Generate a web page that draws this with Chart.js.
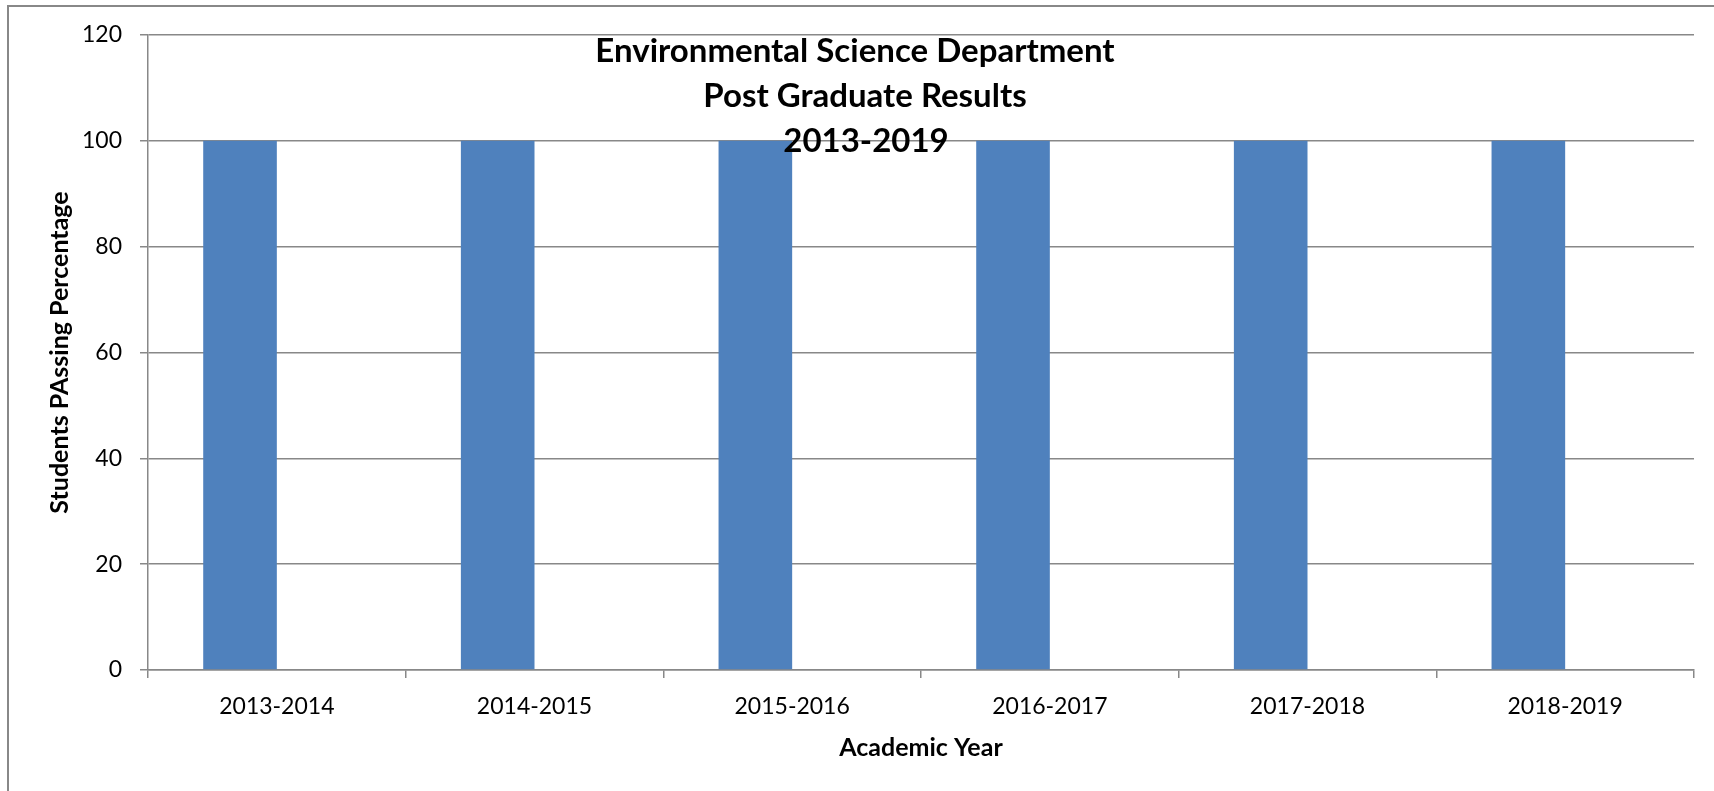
<!DOCTYPE html>
<html>
<head>
<meta charset="utf-8">
<title>Environmental Science Department - Post Graduate Results</title>
<script src="https://cdn.jsdelivr.net/npm/chart.js@4.4.1/dist/chart.umd.min.js"></script>
<style>
  html, body { margin: 0; padding: 0; background: #fff; overflow: hidden; }
  #wrap { width: 1714px; height: 791px; position: relative; }
</style>
</head>
<body>
<div id="wrap"><canvas id="chart" width="1714" height="791"></canvas></div>
<script>
(() => {
  // data
  const academicYears = ['2013-2014','2014-2015','2015-2016','2016-2017','2017-2018','2018-2019'];
  const passingPercentage = [100,100,100,100,100,100];
  // second (empty) series - the bars sit left of centre in the original
  const emptySeries = [null,null,null,null,null,null];
  const titleLines = ['Environmental Science Department','Post Graduate Results','2013-2019'];
  const yMin = 0, yMax = 120, yStep = 20;

  const gridGray = '#888888';
  const fontFamily = 'Lato, "Open Sans", sans-serif';

  // white page + the outer frame (only top/left visible in the crop)
  const framePlugin = {
    id: 'frame',
    beforeDraw(chart){
      const c = chart.ctx;
      c.save();
      c.fillStyle = '#fff';
      c.fillRect(0,0,chart.width,chart.height);
      c.strokeStyle = gridGray;
      c.lineWidth = 2;
      c.beginPath();
      c.moveTo(8, chart.height + 2);
      c.lineTo(8, 6);
      c.lineTo(chart.width + 2, 6);
      c.stroke();
      c.restore();
    }
  };

  // chart title drawn over the plot, like the Excel original
  const titleOffsets = [-8, 2, 3];
  const titlePlugin = {
    id: 'overTitle',
    afterDraw(chart){
      const c = chart.ctx;
      c.save();
      c.font = 'bold 33px ' + fontFamily;
      c.fillStyle = '#000';
      c.textAlign = 'center';
      c.textBaseline = 'alphabetic';
      titleLines.forEach((line, i) => c.fillText(line, 863 + titleOffsets[i], 62 + i*45));
      c.restore();
    }
  };

  new Chart(document.getElementById('chart').getContext('2d'), {
    type: 'bar',
    data: {
      labels: academicYears,
      datasets: [
        { label: 'Series1', data: passingPercentage, backgroundColor: '#4F81BD', borderWidth: 0 },
        { label: 'Series2', data: emptySeries, backgroundColor: '#C0504D', borderWidth: 0 }
      ]
    },
    options: {
      responsive: false,
      animation: false,
      devicePixelRatio: 1,
      barPercentage: 1,
      categoryPercentage: 2/3.5,
      layout: { padding: { left: 0, top: 35, right: 20, bottom: 0 } },
      plugins: { legend: { display: false }, tooltip: { enabled: false }, title: { display: false } },
      scales: {
        x: {
          grid: { offset: true, drawOnChartArea: false, drawTicks: true, tickLength: 8, color: gridGray, lineWidth: 1.5 },
          border: { display: true, color: gridGray, width: 1.5 },
          ticks: { color: '#000', padding: 15, font: { family: fontFamily, size: 23 }, maxRotation: 0 },
          title: { display: true, text: 'Academic Year', color: '#000', font: { family: fontFamily, size: 25, weight: 'bold' }, padding: { top: 0, bottom: 28 } },
          afterFit(scale){ scale.height = 121; }
        },
        y: {
          min: yMin, max: yMax,
          grid: { color: gridGray, lineWidth: 1.5, drawTicks: true, tickLength: 8 },
          border: { display: true, color: gridGray, width: 1.5 },
          ticks: { stepSize: yStep, color: '#000', padding: 18, font: { family: fontFamily, size: 23 } },
          title: { display: true, text: 'Students PAssing Percentage', color: '#000', font: { family: fontFamily, size: 25, weight: 'bold' }, padding: { top: 45, bottom: 0 } },
          afterFit(scale){ scale.width = 148; }
        }
      }
    },
    plugins: [framePlugin, titlePlugin]
  });
})();
</script>
</body>
</html>
